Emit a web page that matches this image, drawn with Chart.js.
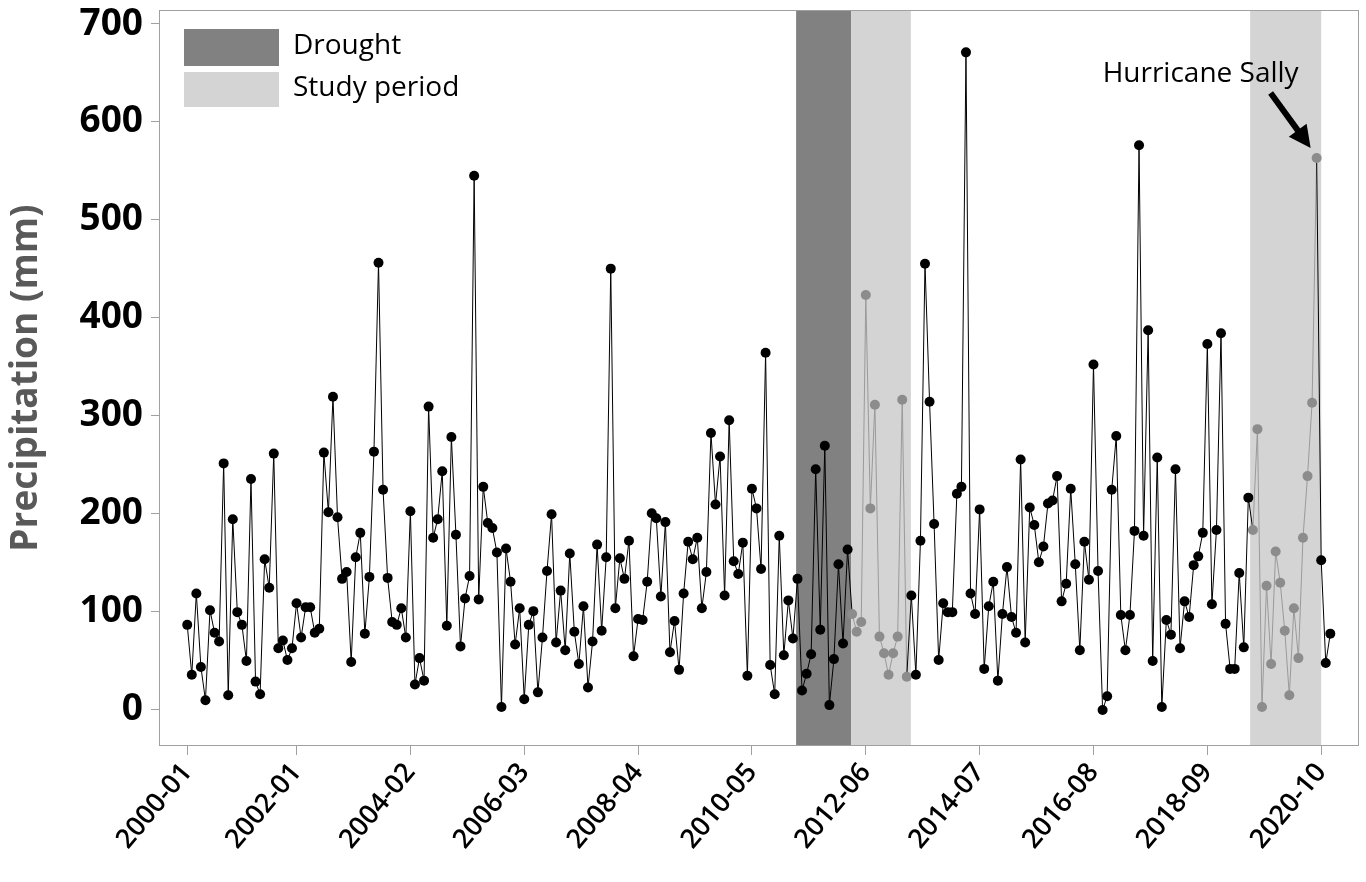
<!DOCTYPE html>
<html><head><meta charset="utf-8">
<script src="https://cdn.jsdelivr.net/npm/chart.js@4.4.0/dist/chart.umd.min.js"></script>
<style>html,body{margin:0;padding:0;background:#fff;}#wrap{width:1366px;height:882px;}</style>
</head><body><div id="wrap"><canvas id="c" width="1366" height="882"></canvas></div>
<script>
// Monthly precipitation (mm), 2000-01 .. 2020-12 (index = month number from 2000-01)
const precipitation = [
 86,35,118,43,9,101,78,69,251,14,194,99,
 86,49,235,28,15,153,124,261,62,70,50,62,
 108,73,104,104,78,82,262,201,319,196,133,140,
 48,155,180,77,135,263,456,224,134,89,86,103,
 73,202,25,52,29,309,175,194,243,85,278,178,
 64,113,136,545,112,227,190,185,160,2,164,130,
 66,103,10,86,100,17,73,141,199,68,121,60,
 159,79,46,105,22,69,168,80,155,450,103,154,
 133,172,54,92,91,130,200,195,115,191,58,90,
 40,118,171,153,175,103,140,282,209,258,116,295,
 151,138,170,34,225,205,143,364,45,15,177,55,
 111,72,133,19,36,56,245,81,269,4,51,148,
 67,163,97,79,89,423,205,311,74,57,35,57,
 74,316,33,116,35,172,455,314,189,50,108,99,
 99,220,227,671,118,97,204,41,105,130,29,97,
 145,94,78,255,68,206,188,150,166,210,213,238,
 110,128,225,148,60,171,132,352,141,-1,13,224,
 279,96,60,96,182,576,177,387,49,257,2,91,
 76,245,62,110,94,147,156,180,373,107,183,384,
 87,41,41,139,63,216,183,286,2,126,46,161,
 129,80,14,103,52,175,238,313,563,152,47,77
];
const tickMonths = [0,24,49,74,99,124,149,174,199,224,249];
const tickLabels = ['2000-01','2002-01','2004-02','2006-03','2008-04','2010-05','2012-06','2014-07','2016-08','2018-09','2020-10'];
const yTicks = [0,100,200,300,400,500,600,700];
const droughtPeriod = [133.7,145.8];
const studyPeriods = [[145.8,158.9],[233.4,249.0]];
const studyMonths = [[146,158],[234,248]];
const hurricaneMonth = 248;
const legendLabels = ['Drought','Study period'];
const annotationText = 'Hurricane Sally';

const DROUGHT_COLOR = '#818181';
const STUDY_COLOR = '#d4d4d4';
const FONT = "'Open Sans', 'Noto Sans', sans-serif";
const inStudy = i => studyMonths.some(([a,b]) => i>=a && i<=b);

const bandsPlugin = {
  id:'bands',
  beforeDatasetsDraw(chart){
    const {ctx, chartArea:a, scales:{x}} = chart;
    ctx.save();
    const rect=(s,e,c)=>{const x0=x.getPixelForValue(s), x1=x.getPixelForValue(e);ctx.fillStyle=c;ctx.fillRect(x0,a.top,x1-x0,a.bottom-a.top);};
    rect(droughtPeriod[0],droughtPeriod[1],DROUGHT_COLOR);
    studyPeriods.forEach(p=>rect(p[0],p[1],STUDY_COLOR));
    ctx.restore();
  }
};
const decorPlugin = {
  id:'decor',
  afterDraw(chart){
    const {ctx, chartArea:a, scales:{x,y}} = chart;
    ctx.save();
    ctx.strokeStyle='#a0a0a0'; ctx.lineWidth=1;
    ctx.strokeRect(a.left+0.5,a.top+0.5,a.right-a.left-1,a.bottom-a.top-1);
    const lx=a.left+25, ly=a.top+19;
    ctx.fillStyle=DROUGHT_COLOR; ctx.fillRect(lx,ly,95,37);
    ctx.fillStyle=STUDY_COLOR; ctx.fillRect(lx,ly+43,95,35);
    ctx.fillStyle='#000'; ctx.font='28px '+FONT; ctx.textBaseline='middle'; ctx.textAlign='left';
    ctx.fillText(legendLabels[0], lx+109, ly+17);
    ctx.fillText(legendLabels[1], lx+109, ly+59);
    const px=x.getPixelForValue(hurricaneMonth), py=y.getPixelForValue(precipitation[hurricaneMonth]);
    ctx.font='28px '+FONT; ctx.textAlign='right'; ctx.textBaseline='alphabetic';
    ctx.fillText(annotationText, px-18, py-76);
    const tx=px-46, ty=py-65, hx=px-6, hy=py-10;
    const dx=hx-tx, dy=hy-ty, L=Math.hypot(dx,dy), ux=dx/L, uy=dy/L, vx=-uy, vy=ux;
    const hl=22, hw=11;
    const bx=hx-ux*hl, by=hy-uy*hl;
    ctx.strokeStyle='#000'; ctx.lineWidth=6; ctx.lineCap='butt';
    ctx.beginPath(); ctx.moveTo(tx,ty); ctx.lineTo(bx+ux*2,by+uy*2); ctx.stroke();
    ctx.beginPath(); ctx.moveTo(hx,hy); ctx.lineTo(bx+vx*hw,by+vy*hw); ctx.lineTo(bx-vx*hw,by-vy*hw); ctx.closePath(); ctx.fill();
    ctx.restore();
  }
};

new Chart(document.getElementById('c'), {
  type:'line',
  data:{datasets:[{
    data: precipitation.map((v,i)=>({x:i,y:v})),
    borderColor:'#000', borderWidth:1, tension:0,
    pointRadius:5, pointBorderWidth:0, pointHoverRadius:5,
    pointBackgroundColor: precipitation.map((v,i)=>inStudy(i)?'#8c8c8c':'#000'),
    segment:{borderColor: c => (inStudy(c.p0DataIndex)&&inStudy(c.p1DataIndex))?'#9a9a9a':'#000'}
  }]},
  options:{
    responsive:false, animation:false, devicePixelRatio:1,
    layout:{padding:{top:10,right:7,left:0,bottom:0}},
    plugins:{legend:{display:false},tooltip:{enabled:false}},
    scales:{
      x:{type:'linear', min:-6.2, max:257.3,
        afterBuildTicks:s=>{s.ticks=tickMonths.map(v=>({value:v}));},
        afterFit:s=>{s.height=136; s.paddingLeft=0; s.paddingRight=0;},
        border:{display:false},
        grid:{drawOnChartArea:false, drawTicks:true, tickLength:9, color:'#a0a0a0'},
        ticks:{autoSkip:false, minRotation:50, maxRotation:50, padding:2, color:'#000',
          font:{family:FONT, size:27, weight:'600'},
          callback:v=>tickLabels[tickMonths.indexOf(v)]}
      },
      y:{min:-37.8, max:714.3,
        afterBuildTicks:s=>{s.ticks=yTicks.map(v=>({value:v}));},
        afterFit:s=>{s.width=159; s.paddingTop=0; s.paddingBottom=0;},
        border:{display:false},
        grid:{drawOnChartArea:false, drawTicks:true, tickLength:8, color:'#a0a0a0'},
        ticks:{padding:8, color:'#000', font:{family:FONT, size:37, weight:'bold'}},
        title:{display:true, text:'Precipitation (mm)', color:'#595959', padding:{top:4,bottom:0},
          font:{family:FONT, size:37, weight:'bold'}}
      }
    }
  },
  plugins:[bandsPlugin, decorPlugin]
});
</script></body></html>
